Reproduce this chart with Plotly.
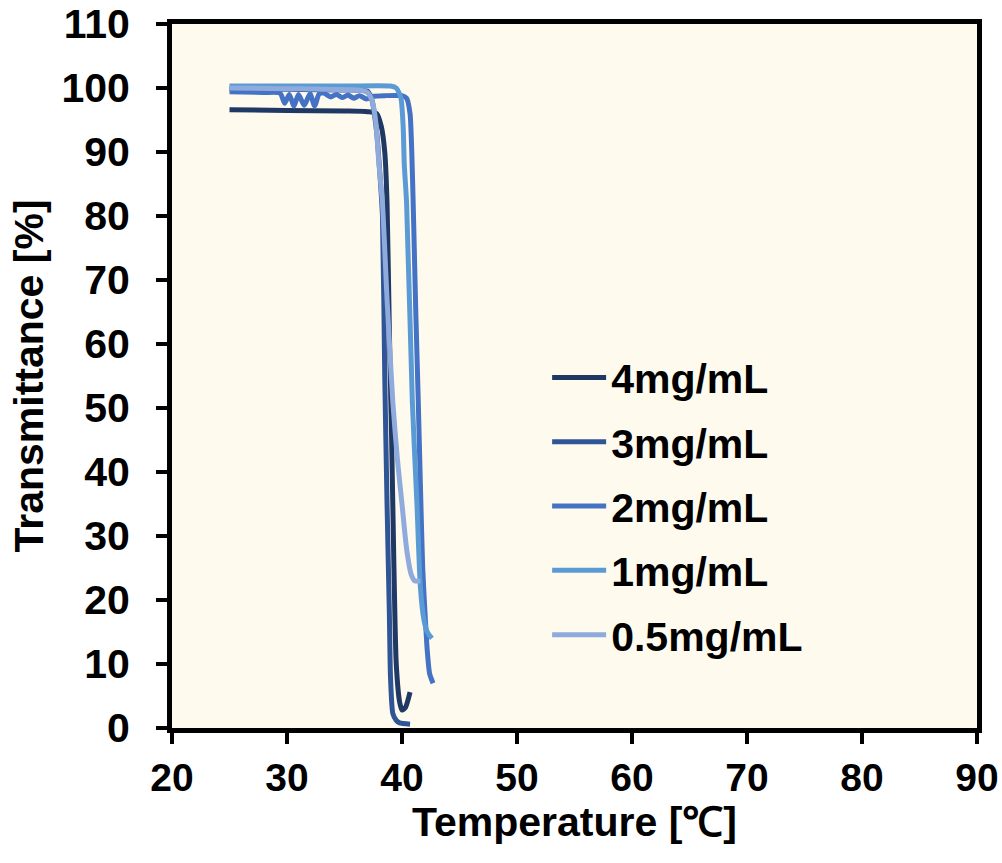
import plotly.graph_objects as go

names = ["4mg/mL", "3mg/mL", "2mg/mL", "1mg/mL", "0.5mg/mL"]
colors = ["#203864", "#2F5597", "#4472C4", "#5B9BD5", "#8FAADC"]

t_4 = [25, 30, 35, 37, 37.8, 38.2, 38.5, 38.7, 38.9, 39.1, 39.3, 39.5, 39.8, 40.0, 40.3, 40.7]
T_4 = [96.6, 96.5, 96.4, 96.3, 96.0, 94.0, 90.0, 82.0, 62.0, 45.0, 25.0, 10.0, 4.0, 2.8, 3.2, 5.6]

t_3 = [25, 30, 35, 37.0, 37.4, 37.8, 38.1, 38.3, 38.5, 38.7, 38.9, 39.0, 39.2, 39.5, 39.8, 40.7]
T_3 = [99.9, 99.8, 99.7, 99.5, 98.0, 93.0, 86.0, 80.0, 55.0, 35.0, 18.0, 8.0, 2.3, 1.2, 0.8, 0.6]

t_2 = [25, 28, 29.4, 29.8, 30.2, 30.6, 31.0, 31.5, 32.0, 32.4, 32.8, 33.2, 33.8, 34.3, 34.8, 35.3, 35.8, 36.3,
       36.9, 37.5, 38.5, 40.0, 40.4, 40.7, 40.85, 41.0, 41.2, 41.4, 41.6, 41.8, 42.0, 42.2, 42.4, 42.7]
T_2 = [99.4, 99.3, 99.2, 97.6, 99.0, 97.2, 99.0, 97.3, 99.1, 97.2, 99.1, 99.2, 98.6, 99.0, 98.5, 98.9, 98.4, 98.8,
       98.3, 98.7, 98.8, 98.8, 98.4, 96.0, 90.0, 80.0, 65.0, 52.0, 38.0, 25.0, 18.0, 12.0, 8.5, 7.0]

t_1 = [25, 30, 35, 39.0, 39.5, 39.9, 40.1, 40.2, 40.4, 40.9, 41.3, 41.6, 41.9, 42.2, 42.6]
T_1 = [100.3, 100.3, 100.3, 100.3, 100.0, 98.5, 94.0, 88.0, 82.0, 51.0, 35.0, 22.0, 17.0, 15.0, 14.0]

t_05 = [25, 30, 36.5, 37.0, 37.4, 37.7, 38.0, 38.3, 38.7, 39.2, 39.6, 40.0, 40.4, 40.8, 41.1, 41.6]
T_05 = [100.0, 99.9, 99.6, 99.3, 98.0, 95.0, 88.0, 82.0, 67.0, 51.0, 42.0, 35.0, 28.0, 24.0, 23.0, 23.0]

xs = [t_4, t_3, t_2, t_1, t_05]
ys = [T_4, T_3, T_2, T_1, T_05]

x_ticks = [20, 30, 40, 50, 60, 70, 80, 90]
y_ticks = [0, 10, 20, 30, 40, 50, 60, 70, 80, 90, 100, 110]

fig = go.Figure()
for i in range(5):
    fig.add_trace(go.Scatter(
        x=xs[i], y=ys[i], mode="lines", name=names[i],
        line=dict(color=colors[i], width=5, shape="spline", smoothing=0.6),
        legendgroup=names[i],
    ))

font_main = "Liberation Sans, Arial, sans-serif"

fig.update_layout(
    width=1002, height=863,
    margin=dict(l=172, r=25, t=24, b=135),
    paper_bgcolor="white",
    plot_bgcolor="#FFFAEE",
    showlegend=True,
    legend=dict(
        x=0.466, y=0.545, xanchor="left", yanchor="top",
        bgcolor="rgba(0,0,0,0)",
        font=dict(family=font_main, size=41, color="black", weight="bold"),
        traceorder="grouped", tracegroupgap=8,
        itemwidth=54,
    ),
    xaxis=dict(
        range=[20, 90], tickvals=x_ticks, ticktext=[str(v) for v in x_ticks],
        showgrid=False, zeroline=False, automargin=False,
        showline=True, linecolor="black", linewidth=5, mirror=True,
        ticks="outside", ticklen=11, tickwidth=4, tickcolor="black",
        ticklabeloverflow="allow",
        tickfont=dict(family=font_main, size=39, color="black", weight="bold"),
        title=dict(text="Temperature [℃]", standoff=0,
                   font=dict(family=font_main, size=41, color="black", weight="bold")),
    ),
    yaxis=dict(
        range=[0, 110], tickvals=y_ticks, ticktext=[str(v) for v in y_ticks],
        showgrid=False, zeroline=False, automargin=False,
        showline=True, linecolor="black", linewidth=5, mirror=True,
        ticks="outside", ticklen=11, tickwidth=4, tickcolor="black",
        ticklabelstandoff=18, ticklabeloverflow="allow",
        tickfont=dict(family=font_main, size=41, color="black", weight="bold"),
        title=dict(text="Transmittance [%]", standoff=7,
                   font=dict(family=font_main, size=41, color="black", weight="bold")),
    ),
)

fig.write_html("out.html",
               config={"displayModeBar": False},
               post_script="document.body.style.margin='0';document.body.style.padding='0';")
